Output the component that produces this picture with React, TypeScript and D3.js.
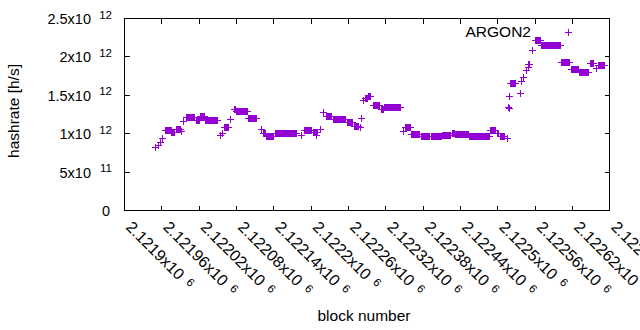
import React from "react";
import * as d3 from "d3";

// Hashrate runs (blocks with constant estimated hashrate), values in 1e12 h/s
const segStart = [2121950,2121955,2121958,2121961,2121966,2121976,2121984,2121992,2121995,2122000,2122015,2122022,2122030,2122055,2122057,2122061,2122071,2122076,2122080,2122100,2122120,2122123,2122129,2122143,2122185,2122189,2122204,2122208,2122215,2122220,2122224,2122236,2122259,2122270,2122279,2122281,2122284,2122287,2122292,2122300,2122313,2122318,2122348,2122351,2122362,2122377,2122394,2122411,2122427,2122432,2122455,2122468,2122489,2122499,2122504,2122515,2122517,2122518,2122519,2122521,2122537,2122538,2122541,2122546,2122549,2122550,2122555,2122560,2122571,2122603,2122618,2122632,2122649,2122659,2122662];
const segEnd = [2121950,2121955,2121958,2121961,2121975,2121981,2121990,2121992,2121995,2122012,2122020,2122028,2122049,2122055,2122057,2122067,2122071,2122078,2122097,2122112,2122120,2122127,2122140,2122176,2122185,2122201,2122210,2122208,2122215,2122220,2122233,2122256,2122267,2122276,2122279,2122281,2122284,2122291,2122296,2122310,2122316,2122344,2122348,2122359,2122374,2122391,2122409,2122424,2122430,2122453,2122466,2122486,2122496,2122501,2122510,2122515,2122517,2122518,2122519,2122528,2122537,2122538,2122541,2122546,2122549,2122551,2122555,2122569,2122601,2122616,2122630,2122646,2122654,2122659,2122671];
const segValue = [0.82,0.85,0.88,0.94,1.04,1.01,1.055,1.03,1.16,1.21,1.17,1.225,1.17,0.98,1.0,1.085,1.19,1.31,1.29,1.195,1.055,1.0,0.965,1.0,0.98,1.045,1.02,0.975,1.05,1.27,1.225,1.18,1.145,1.1,1.075,1.195,1.43,1.46,1.49,1.367,1.32,1.335,1.03,1.08,0.993,0.964,0.966,0.977,1.0,0.992,0.97,0.961,1.048,1.0,0.966,0.94,1.345,1.325,1.485,1.65,1.52,1.685,1.735,1.82,1.865,1.9,2.085,2.21,2.145,1.923,1.84,1.8,1.91,1.845,1.884];

const xTicks = [2121900,2121960,2122020,2122080,2122140,2122200,2122260,2122320,2122380,2122440,2122500,2122560,2122620,2122680];
const xTickMain = ["2.1219","2.12196","2.12202","2.12208","2.12214","2.1222","2.12226","2.12232","2.12238","2.12244","2.1225","2.12256","2.12262","2.12268"];
const yTicks = [0, 5e11, 1e12, 1.5e12, 2e12, 2.5e12];
const yTickMain = ["0", "5x10", "1x10", "1.5x10", "2x10", "2.5x10"];
const yTickExp = ["", "11", "12", "12", "12", "12"];
const seriesName = "ARGON2";

const W = 640, H = 330;
const left = 124, right = 609.3, top = 18, bottom = 210;
const color = "#9400d3";
const font = "'Liberation Sans', Arial, sans-serif";

export default function App() {
  const x = d3.scaleLinear().domain([2121900, 2122680]).range([left, right]);
  const y = d3.scaleLinear().domain([0, 2.5e12]).range([bottom, top]);

  const pts: { b: number; v: number }[] = [];
  segStart.forEach((s, i) => {
    for (let b = s; b <= segEnd[i]; b++) pts.push({ b, v: segValue[i] * 1e12 });
  });

  const plus = (cx: number, cy: number) => {
    const px = Math.round(cx) + 0.5, py = Math.round(cy) + 0.5;
    return `M${px - 3.5},${py}h7M${px},${py - 3.5}v7`;
  };
  const dataPath = pts.map((p) => plus(x(p.b), y(p.v))).join("");

  const L = Math.round(left) + 0.5, R = Math.round(right) + 0.5, T = top + 0.5, B = bottom + 0.5;
  const tl = 5;

  return (
    <svg width={W} height={H} style={{ position: "absolute", left: 0, top: 0, background: "#fff" }} fontFamily={font}>
      <rect x={0} y={0} width={W} height={H} fill="#fff" />
      {/* ticks */}
      <g stroke="#000" strokeWidth={1} shapeRendering="crispEdges">
        {yTicks.map((t, i) => {
          const yy = Math.round(y(t)) + 0.5;
          return (
            <g key={"yt" + i}>
              <line x1={L} x2={L + tl} y1={yy} y2={yy} />
              <line x1={R} x2={R - tl} y1={yy} y2={yy} />
            </g>
          );
        })}
        {xTicks.map((t, i) => {
          const xx = Math.round(x(t)) + 0.5;
          return (
            <g key={"xt" + i}>
              <line x1={xx} x2={xx} y1={B} y2={B - tl} />
              <line x1={xx} x2={xx} y1={T} y2={T + tl} />
            </g>
          );
        })}
        <rect x={L} y={T} width={R - L} height={B - T} fill="none" />
      </g>
      {/* y tick labels */}
      {yTicks.map((t, i) => {
        const yy = y(t);
        return (
          <g key={"yl" + i} fill="#000">
            {yTickExp[i] === "" ? (
              <text x={110} y={yy + 5.5} fontSize={14.5} textAnchor="end">{yTickMain[i]}</text>
            ) : (
              <>
                <text x={91} y={yy + 6} fontSize={14.5} textAnchor="end">{yTickMain[i]}</text>
                <text x={112} y={yy + 0.5} fontSize={11.5} textAnchor="end">{yTickExp[i]}</text>
              </>
            )}
          </g>
        );
      })}
      {/* x tick labels */}
      {xTicks.map((t, i) => {
        const xx = x(t);
        return (
          <text key={"xl" + i} transform={`translate(${xx + 1},${228}) rotate(45)`} fontSize={16} fill="#000">
            <tspan>{xTickMain[i] + "x10"}</tspan>
            <tspan dx={7} dy={-4} fontSize={11.5}>6</tspan>
          </text>
        );
      })}
      {/* axis labels */}
      <text transform={`translate(18.5,111) rotate(-90)`} textAnchor="middle" fontSize={15.5} fill="#000">hashrate [h/s]</text>
      <text x={364} y={320.5} textAnchor="middle" fontSize={15.5} fill="#000">block number</text>
      {/* data */}
      <path d={dataPath} stroke={color} strokeWidth={1} fill="none" shapeRendering="crispEdges" />
      {/* key */}
      <text x={531} y={37} textAnchor="end" fontSize={15.5} fill="#000">{seriesName}</text>
      <path d={plus(567.7, 32.3)} stroke={color} strokeWidth={1} fill="none" shapeRendering="crispEdges" />
    </svg>
  );
}
